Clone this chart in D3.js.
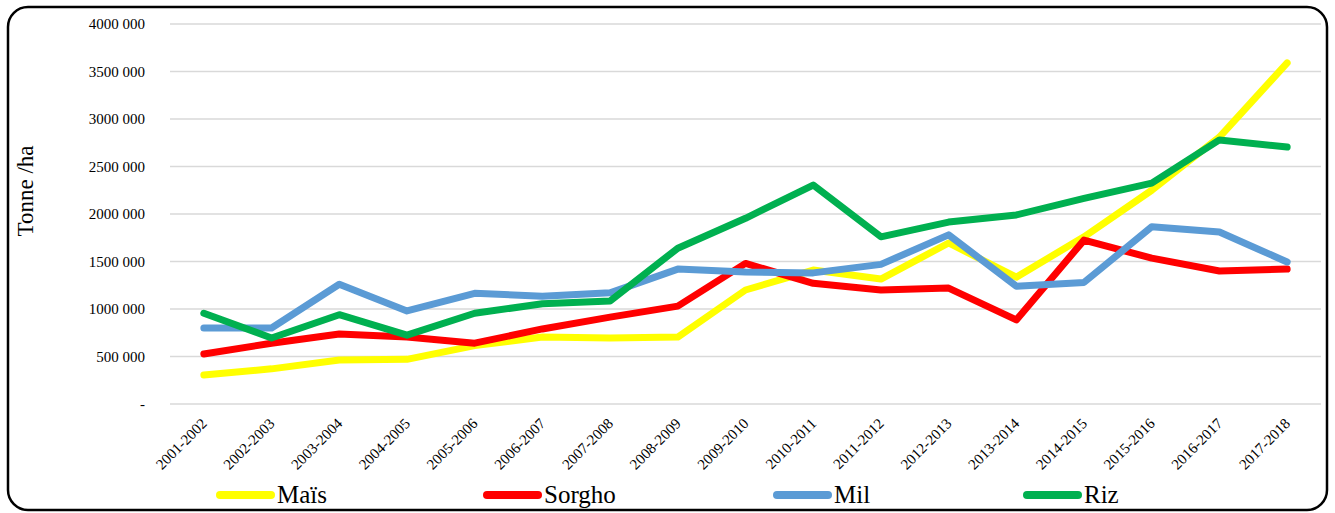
<!DOCTYPE html>
<html>
<head>
<meta charset="utf-8">
<script src="https://cdn.jsdelivr.net/npm/d3@7"></script>
<style>
  html, body { margin: 0; padding: 0; background: #fff; }
  svg { display: block; font-family: "Liberation Serif", "Times New Roman", serif; }
</style>
</head>
<body>
<svg id="chart" width="1335" height="513"></svg>
<script>
// Campaign years
const campagnes = ["2001-2002","2002-2003","2003-2004","2004-2005","2005-2006","2006-2007",
  "2007-2008","2008-2009","2009-2010","2010-2011","2011-2012","2012-2013","2013-2014",
  "2014-2015","2015-2016","2016-2017","2017-2018"];

// Production per crop
const mais   = [305000, 370000, 463000, 470000, 615000, 705000, 695000, 705000, 1200000,
  1410000, 1315000, 1695000, 1335000, 1760000, 2250000, 2810000, 3590000];
const sorgho = [526000, 640000, 737000, 705000, 640000, 790000, 915000, 1030000, 1480000,
  1270000, 1200000, 1220000, 885000, 1725000, 1535000, 1400000, 1420000];
const mil    = [800000, 800000, 1260000, 980000, 1165000, 1135000, 1170000, 1420000, 1390000,
  1380000, 1470000, 1780000, 1240000, 1280000, 1865000, 1810000, 1495000];
const riz    = [955000, 695000, 940000, 725000, 955000, 1055000, 1085000, 1640000, 1955000,
  2305000, 1760000, 1915000, 1990000, 2165000, 2325000, 2780000, 2705000];

const seriesNames  = ["Maïs", "Sorgho", "Mil", "Riz"];
const seriesColors = ["#FFFF00", "#FF0000", "#5B9BD5", "#00B050"];
const seriesValues = [mais, sorgho, mil, riz];

const yTickValues = [0, 500000, 1000000, 1500000, 2000000, 2500000, 3000000, 3500000, 4000000];
const yTickLabels = ["-", "500 000", "1000 000", "1500 000", "2000 000", "2500 000",
  "3000 000", "3500 000", "4000 000"];

const svg = d3.select("#chart");

// Rounded frame
svg.append("rect")
  .attr("x", 8).attr("y", 7)
  .attr("width", 1319).attr("height", 503)
  .attr("rx", 20).attr("ry", 20)
  .attr("fill", "#fff")
  .attr("stroke", "#000")
  .attr("stroke-width", 2.5);

const x = d3.scalePoint().domain(campagnes).range([170, 1321]).padding(0.5);
const y = d3.scaleLinear().domain([0, 4000000]).range([404, 24]);

// Horizontal gridlines
svg.append("g")
  .selectAll("line")
  .data(yTickValues)
  .join("line")
  .attr("x1", 170).attr("x2", 1321)
  .attr("y1", d => y(d)).attr("y2", d => y(d))
  .attr("stroke", "#d9d9d9")
  .attr("stroke-width", 1.5);

// Y axis labels
const yAxis = d3.axisLeft(y)
  .tickValues(yTickValues)
  .tickFormat((d, i) => yTickLabels[i])
  .tickSize(0)
  .tickPadding(0);
svg.append("g")
  .attr("transform", "translate(145,0)")
  .call(yAxis)
  .call(g => g.select(".domain").remove())
  .call(g => g.selectAll("text")
    .attr("font-size", 15)
    .attr("font-family", "'Liberation Serif', 'Times New Roman', serif")
    .attr("fill", "#000")
    .attr("dy", "0.33em"));

// Y axis title
svg.append("text")
  .attr("transform", "translate(33,191) rotate(-90)")
  .attr("text-anchor", "middle")
  .attr("font-size", 23)
  .attr("fill", "#000")
  .text("Tonne /ha");

// X axis labels, rotated
const xAxis = d3.axisBottom(x).tickSize(0).tickPadding(0);
svg.append("g")
  .attr("transform", "translate(0,421)")
  .call(xAxis)
  .call(g => g.select(".domain").remove())
  .call(g => g.selectAll("text")
    .attr("font-size", 15)
    .attr("font-family", "'Liberation Serif', 'Times New Roman', serif")
    .attr("fill", "#000")
    .attr("text-anchor", "end")
    .attr("y", 0).attr("dy", "0.33em")
    .attr("transform", "rotate(-45)"));

// Series lines
const line = d3.line()
  .x((d, i) => x(campagnes[i]))
  .y(d => y(d));

svg.append("g")
  .selectAll("path")
  .data(seriesValues)
  .join("path")
  .attr("d", d => line(d))
  .attr("fill", "none")
  .attr("stroke", (d, i) => seriesColors[i])
  .attr("stroke-width", 7)
  .attr("stroke-linejoin", "round")
  .attr("stroke-linecap", "round");

// Legend
const legendX = [216, 483, 773, 1023];
const legend = svg.append("g")
  .selectAll("g")
  .data(seriesNames)
  .join("g")
  .attr("transform", (d, i) => `translate(${legendX[i]},495)`);
legend.append("line")
  .attr("x1", 4).attr("x2", 55)
  .attr("y1", 0).attr("y2", 0)
  .attr("stroke", (d, i) => seriesColors[i])
  .attr("stroke-width", 8)
  .attr("stroke-linecap", "round");
legend.append("text")
  .attr("x", 61).attr("y", 8)
  .attr("font-size", 25)
  .attr("fill", "#000")
  .text(d => d);
</script>
</body>
</html>
